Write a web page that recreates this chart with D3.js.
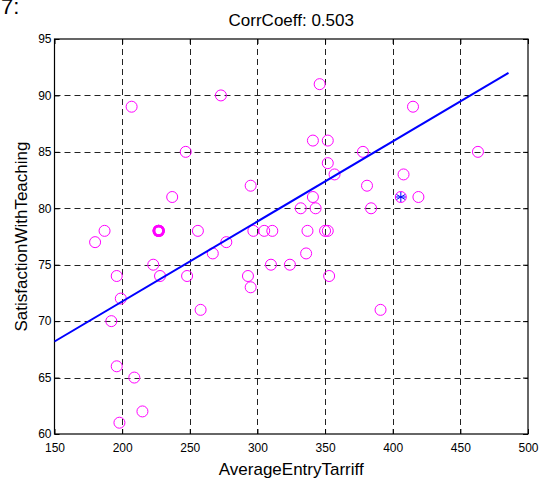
<!DOCTYPE html>
<html>
<head>
<meta charset="utf-8">
<script src="https://cdn.jsdelivr.net/npm/d3@7"></script>
<style>
  body { margin: 0; background: #fff; }
  svg { display: block; font-family: "Liberation Sans", Arial, sans-serif; }
</style>
</head>
<body>
<svg id="chart"></svg>
<script>
// data
const tariff = [207, 273, 247, 237, 295, 346, 415, 341, 352, 378, 463, 352, 357, 408, 381, 406, 419, 341, 332, 343, 384,
  180, 187, 227, 227, 227, 256, 297, 305, 311, 277, 267, 223, 196, 228, 248, 293, 295, 310, 324,
  199, 258, 192, 196, 209, 215, 198, 337, 350, 352, 336, 353, 391];
const satisfaction = [89, 90, 85, 81, 82, 91, 89, 86, 86, 85, 85, 84, 83, 83, 82, 81, 81, 81, 80, 80, 80,
  77, 78, 78, 78, 78, 78, 78, 78, 78, 77, 76, 75, 74, 74, 74, 74, 73, 75, 75,
  72, 71, 70, 66, 65, 62, 61, 78, 78, 78, 76, 74, 71];
const highlight = [406, 81];
const fitSlope = 0.0709;
const fitIntercept = 57.56;
const fitRange = [150, 485.6];
const xTicks = [150, 200, 250, 300, 350, 400, 450, 500];
const yTicks = [60, 65, 70, 75, 80, 85, 90, 95];

const width = 544;
const height = 487;
const margin = { top: 39, right: 16, bottom: 53, left: 54.5 };

const svg = d3.select("#chart")
  .attr("width", width)
  .attr("height", height);

const x = d3.scaleLinear().domain([150, 500]).range([margin.left, width - margin.right]);
const y = d3.scaleLinear().domain([60, 95]).range([height - margin.bottom, margin.top]);

// dashed grid
const grid = svg.append("g").attr("stroke", "#222").attr("stroke-width", 1).attr("stroke-dasharray", "6,4");
grid.selectAll(".vg")
  .data(xTicks.slice(1, -1))
  .join("line")
  .attr("x1", d => Math.round(x(d)) + 0.5).attr("x2", d => Math.round(x(d)) + 0.5)
  .attr("y1", y(95)).attr("y2", y(60));
grid.selectAll(".hg")
  .data(yTicks.slice(1, -1))
  .join("line")
  .attr("y1", d => Math.round(y(d)) + 0.5).attr("y2", d => Math.round(y(d)) + 0.5)
  .attr("x1", x(150)).attr("x2", x(500));

// axes with inward ticks
const styleAxis = g => {
  g.select(".domain").remove();
  g.selectAll("line").attr("stroke", "#000");
  g.selectAll("text").attr("fill", "#000").style("font-size", "12px");
};
svg.append("g")
  .attr("transform", `translate(0,${y(60)})`)
  .call(d3.axisBottom(x).tickValues(xTicks).tickSize(-5).tickPadding(9))
  .call(styleAxis);
svg.append("g")
  .attr("transform", `translate(0,${y(95)})`)
  .call(d3.axisTop(x).tickValues(xTicks).tickSize(-5).tickFormat(""))
  .call(styleAxis);
svg.append("g")
  .attr("transform", `translate(${x(150)},0)`)
  .call(d3.axisLeft(y).tickValues(yTicks).tickSize(-5).tickPadding(3))
  .call(styleAxis);
svg.append("g")
  .attr("transform", `translate(${x(500)},0)`)
  .call(d3.axisRight(y).tickValues(yTicks).tickSize(-5).tickFormat(""))
  .call(styleAxis);

svg.append("rect")
  .attr("x", x(150)).attr("y", y(95))
  .attr("width", x(500) - x(150)).attr("height", y(60) - y(95))
  .attr("fill", "none").attr("stroke", "#000").attr("stroke-width", 1.2);

// points (stacked duplicates look bolder, as in the reference)
const pts = d3.zip(tariff, satisfaction);
const dupes = d3.rollup(pts, v => v.length, d => d[0] + "," + d[1]);
svg.append("g")
  .selectAll("circle")
  .data(pts)
  .join("circle")
  .attr("cx", d => x(d[0]))
  .attr("cy", d => y(d[1]))
  .attr("r", d => dupes.get(d[0] + "," + d[1]) > 1 ? 4.8 : 5.5)
  .attr("fill", "none")
  .attr("stroke", "#ff00ff")
  .attr("stroke-width", d => dupes.get(d[0] + "," + d[1]) > 1 ? 2.6 : 1);

// highlighted point (asterisk)
const hx = x(highlight[0]), hy = y(highlight[1]);
const star = svg.append("g").attr("stroke", "#0000ff").attr("stroke-width", 1);
[0, 60, 120].forEach(a => {
  const r = 5, t = a * Math.PI / 180;
  star.append("line")
    .attr("x1", hx - r * Math.sin(t)).attr("y1", hy - r * Math.cos(t))
    .attr("x2", hx + r * Math.sin(t)).attr("y2", hy + r * Math.cos(t));
});
star.append("line").attr("x1", hx - 5).attr("x2", hx + 5).attr("y1", hy).attr("y2", hy);

// regression line
svg.append("line")
  .attr("x1", x(fitRange[0])).attr("y1", y(fitIntercept + fitSlope * fitRange[0]))
  .attr("x2", x(fitRange[1])).attr("y2", y(fitIntercept + fitSlope * fitRange[1]))
  .attr("stroke", "#0000ff")
  .attr("stroke-width", 2);

// texts
svg.append("text")
  .attr("x", (x(150) + x(500)) / 2).attr("y", 26)
  .attr("text-anchor", "middle")
  .style("font-size", "17px")
  .text("CorrCoeff: 0.503");

svg.append("text")
  .attr("x", (x(150) + x(500)) / 2).attr("y", 475)
  .attr("text-anchor", "middle")
  .style("font-size", "17px")
  .text("AverageEntryTarriff");

svg.append("text")
  .attr("transform", `translate(27,${(y(60) + y(95)) / 2}) rotate(-90)`)
  .attr("text-anchor", "middle")
  .style("font-size", "17px")
  .text("SatisfactionWithTeaching");

svg.append("text")
  .attr("x", 1).attr("y", 14)
  .style("font-size", "22px")
  .text("7:");
</script>
</body>
</html>
